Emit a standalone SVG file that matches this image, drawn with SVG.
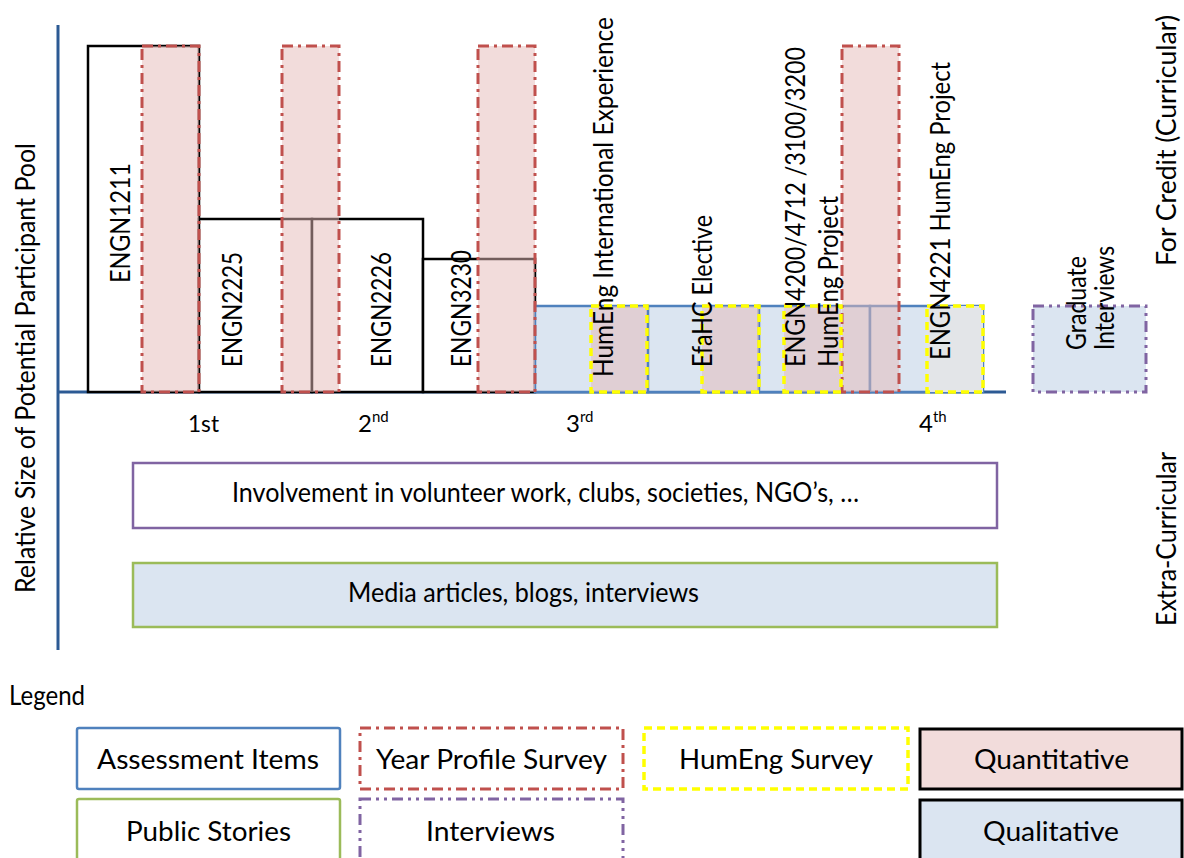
<svg xmlns="http://www.w3.org/2000/svg" width="1184" height="858" viewBox="0 0 1184 858">
<defs>
<style>
text{font-family:Lato,"Open Sans","Liberation Sans",sans-serif;fill:#000;}
.t24{font-size:26px;}
.t22{font-size:24px;}
.sup{font-size:15px;}
.course{fill:#fff;stroke:#000;stroke-width:2.5;}
.qual{fill:#dbe5f1;stroke:#4f81bd;stroke-width:2.5;}
.yps{fill:#e6b9b8;fill-opacity:0.5;stroke:#c0504d;stroke-width:3;stroke-dasharray:11 5 3 5;}
.hes{fill:#e6b9b8;fill-opacity:0.5;stroke:#ffff00;stroke-width:3.5;stroke-dasharray:8 5;}
.intv{fill:#dbe5f1;stroke:#8064a2;stroke-width:3;stroke-dasharray:11 5 3 5 3 5;}
.axis{stroke:#2c5a94;stroke-width:3;fill:none;}
</style>
</defs>
<rect width="1184" height="858" fill="#fff"/>

<g id="axes">
<line class="axis" x1="58" y1="25" x2="58" y2="650"/>
<line class="axis" x1="57" y1="392" x2="1006" y2="392"/>
</g>

<g id="courses">
<g id="engn1211"><rect class="course" x="88" y="46" width="111" height="346"/></g>
<g id="engn2225"><rect class="course" x="199" y="219" width="113" height="173"/></g>
<g id="engn2226"><rect class="course" x="312" y="219" width="111" height="173"/></g>
<g id="engn3230"><rect class="course" x="423" y="259" width="112" height="133"/></g>
</g>

<g id="qualitative-items">
<g id="humeng-intl"><rect class="qual" x="535" y="306" width="113" height="86"/></g>
<g id="efahc"><rect class="qual" x="648" y="306" width="111" height="86"/></g>
<g id="engn4200"><rect class="qual" x="759" y="306" width="111" height="86"/></g>
<g id="engn4221"><rect class="qual" x="870" y="306" width="113" height="86"/></g>
<g id="graduate"><rect class="intv" x="1033" y="306" width="113" height="86"/></g>
</g>

<g id="year-profile-surveys">
<rect class="yps" x="142" y="46" width="57" height="346"/>
<rect class="yps" x="282" y="46" width="57" height="346"/>
<rect class="yps" x="478" y="46" width="57" height="346"/>
<rect class="yps" x="842" y="46" width="57" height="346"/>
</g>

<g id="humeng-surveys">
<rect class="hes" x="591" y="306" width="56" height="86"/>
<rect class="hes" x="702" y="306" width="57" height="86"/>
<rect class="hes" x="784" y="306" width="57" height="86"/>
<rect class="hes" x="927" y="306" width="56" height="86" style="fill:#e3e5e8;fill-opacity:1"/>
</g>

<g id="chart-labels">
<text class="t24" transform="translate(130,283) rotate(-90)" textLength="120" lengthAdjust="spacingAndGlyphs">ENGN1211</text>
<text class="t24" transform="translate(242,367) rotate(-90)" textLength="115" lengthAdjust="spacingAndGlyphs">ENGN2225</text>
<text class="t24" transform="translate(391,367) rotate(-90)" textLength="115" lengthAdjust="spacingAndGlyphs">ENGN2226</text>
<text class="t24" transform="translate(471,367) rotate(-90)" textLength="117" lengthAdjust="spacingAndGlyphs">ENGN3230</text>
<text class="t24" transform="translate(613,377) rotate(-90)" textLength="360" lengthAdjust="spacingAndGlyphs">HumEng International Experience</text>
<text class="t24" transform="translate(712,367) rotate(-90)" textLength="152" lengthAdjust="spacingAndGlyphs">EfaHC Elective</text>
<text class="t24" transform="translate(805,367) rotate(-90)" textLength="320" lengthAdjust="spacingAndGlyphs">ENGN4200/4712 /3100/3200</text>
<text class="t24" transform="translate(838,367) rotate(-90)" textLength="171" lengthAdjust="spacingAndGlyphs">HumEng Project</text>
<text class="t24" transform="translate(950,360) rotate(-90)" textLength="298" lengthAdjust="spacingAndGlyphs">ENGN4221 HumEng Project</text>
<text class="t24" text-anchor="middle" transform="translate(1086,303) rotate(-90)" textLength="94" lengthAdjust="spacingAndGlyphs">Graduate</text>
<text class="t24" text-anchor="middle" transform="translate(1114,298) rotate(-90)" textLength="104" lengthAdjust="spacingAndGlyphs">Interviews</text>
<text class="t24" transform="translate(35,593) rotate(-90)" textLength="450" lengthAdjust="spacingAndGlyphs">Relative Size of Potential Participant Pool</text>
<text class="t24" transform="translate(1176,266) rotate(-90)" textLength="251" lengthAdjust="spacingAndGlyphs">For Credit (Curricular)</text>
<text class="t24" transform="translate(1176,626) rotate(-90)" textLength="174" lengthAdjust="spacingAndGlyphs">Extra-Curricular</text>
<text class="t22" x="188" y="432" textLength="31" lengthAdjust="spacingAndGlyphs">1st</text>
<text class="t22" x="358" y="432">2<tspan class="sup" dy="-10">nd</tspan></text>
<text class="t22" x="566" y="432">3<tspan class="sup" dy="-10">rd</tspan></text>
<text class="t22" x="919" y="432">4<tspan class="sup" dy="-10">th</tspan></text>
</g>

<g id="extra-curricular">
<g id="involvement">
<rect x="133" y="463" width="864" height="65" fill="#fff" stroke="#8064a2" stroke-width="2.5"/>
<text class="t24" x="232" y="502" textLength="627" lengthAdjust="spacingAndGlyphs">Involvement in volunteer work, clubs, societies, NGO’s, …</text>
</g>
<g id="media">
<rect x="133" y="563" width="864" height="64" fill="#dbe5f1" stroke="#9bbb59" stroke-width="2.5"/>
<text class="t24" x="348" y="602" textLength="351" lengthAdjust="spacingAndGlyphs">Media articles, blogs, interviews</text>
</g>
</g>

<g id="legend">
<text class="t24" x="9" y="705" textLength="76" lengthAdjust="spacingAndGlyphs">Legend</text>
<g id="lg-assessment">
<rect x="77" y="728" width="263" height="61" fill="#fff" stroke="#4f81bd" stroke-width="2.5" rx="2"/>
<text class="t24" x="97" y="769" textLength="222" lengthAdjust="spacingAndGlyphs">Assessment Items</text>
</g>
<g id="lg-yearprofile">
<rect x="360" y="728" width="263" height="61" fill="#fff" stroke="#c0504d" stroke-width="3" stroke-dasharray="11 5 3 5"/>
<text class="t24" x="376" y="769" textLength="231" lengthAdjust="spacingAndGlyphs">Year Profile Survey</text>
</g>
<g id="lg-humeng">
<rect x="644" y="728" width="264" height="61" fill="#fff" stroke="#ffff00" stroke-width="3.5" stroke-dasharray="8 5"/>
<text class="t24" x="679" y="769" textLength="194" lengthAdjust="spacingAndGlyphs">HumEng Survey</text>
</g>
<g id="lg-quantitative">
<rect x="920" y="729" width="262" height="60" fill="#f2dcdb" stroke="#000" stroke-width="3"/>
<text class="t24" x="974" y="769" textLength="155" lengthAdjust="spacingAndGlyphs">Quantitative</text>
</g>
<g id="lg-public">
<rect x="77" y="799" width="263" height="70" fill="#fff" stroke="#9bbb59" stroke-width="2.5" rx="2"/>
<text class="t24" x="126" y="841" textLength="165" lengthAdjust="spacingAndGlyphs">Public Stories</text>
</g>
<g id="lg-interviews">
<rect x="360" y="799" width="263" height="70" fill="#fff" stroke="#8064a2" stroke-width="3" stroke-dasharray="11 5 3 5 3 5"/>
<text class="t24" x="426" y="841" textLength="129" lengthAdjust="spacingAndGlyphs">Interviews</text>
</g>
<g id="lg-qualitative">
<rect x="920" y="800" width="262" height="70" fill="#dbe5f1" stroke="#000" stroke-width="3"/>
<text class="t24" x="983" y="841" textLength="136" lengthAdjust="spacingAndGlyphs">Qualitative</text>
</g>
</g>
</svg>
